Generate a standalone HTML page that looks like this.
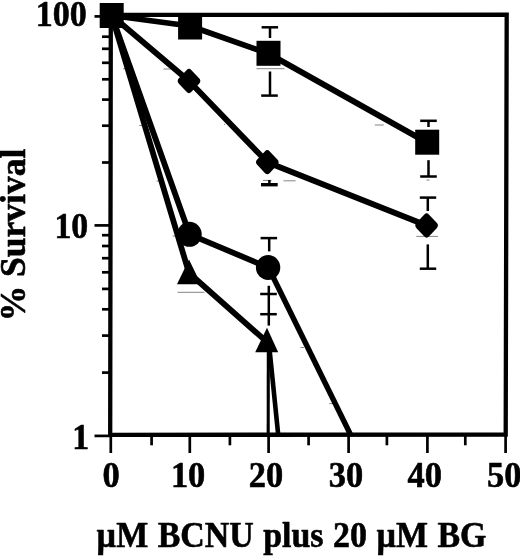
<!DOCTYPE html>
<html lang="en"><head><meta charset="utf-8"><title>Survival chart</title>
<style>html,body{margin:0;padding:0;background:#fff}body{width:520px;height:557px;overflow:hidden}</style></head>
<body>
<svg width="520" height="557" viewBox="0 0 520 557" style="display:block">
<rect width="520" height="557" fill="#fff"/>
<g stroke="#666" stroke-width="0.8">
<line x1="262.9" y1="180.4" x2="271.6" y2="180.4"/>
<line x1="123" y1="68.8" x2="126.4" y2="68.8"/>
<line x1="139.3" y1="125.5" x2="142" y2="125.5"/>
<line x1="156.6" y1="181" x2="160" y2="181"/>
<line x1="426.5" y1="180.1" x2="429.5" y2="180.1"/>
<line x1="163.5" y1="69" x2="171.5" y2="69"/>
<line x1="224" y1="124.4" x2="225" y2="124.4"/>
<line x1="374.8" y1="125" x2="383.8" y2="125"/>
<line x1="283.5" y1="180.8" x2="295.6" y2="180.8"/>
<line x1="256.5" y1="68.7" x2="284.4" y2="68.7"/>
<line x1="416.3" y1="236.4" x2="437.9" y2="236.4"/>
<line x1="177.5" y1="292.3" x2="204.4" y2="292.3"/>
<line x1="172.7" y1="236" x2="177" y2="236"/>
<line x1="300.5" y1="347.5" x2="304" y2="347.5"/>
<line x1="329.3" y1="403.6" x2="333" y2="403.6"/>
</g>
<path d="M110.8 14.9 L506.7 14.7 L505.7 434.6 L110.2 434.8 Z" fill="none" stroke="#000" stroke-width="4.3" stroke-linejoin="miter"/>
<g stroke="#000" stroke-width="2.7">
<line x1="94.5" y1="16.4" x2="110.2" y2="16.4"/>
<line x1="94.5" y1="225.4" x2="110.2" y2="225.4"/>
<line x1="94.5" y1="435.9" x2="110.2" y2="435.9"/>
<line x1="102" y1="162.5" x2="110.2" y2="162.5"/>
<line x1="102" y1="125.7" x2="110.2" y2="125.7"/>
<line x1="102" y1="99.6" x2="110.2" y2="99.6"/>
<line x1="102" y1="79.3" x2="110.2" y2="79.3"/>
<line x1="102" y1="62.8" x2="110.2" y2="62.8"/>
<line x1="102" y1="48.8" x2="110.2" y2="48.8"/>
<line x1="102" y1="36.7" x2="110.2" y2="36.7"/>
<line x1="102" y1="26.0" x2="110.2" y2="26.0"/>
<line x1="102" y1="372.6" x2="110.2" y2="372.6"/>
<line x1="102" y1="335.6" x2="110.2" y2="335.6"/>
<line x1="102" y1="309.3" x2="110.2" y2="309.3"/>
<line x1="102" y1="288.9" x2="110.2" y2="288.9"/>
<line x1="102" y1="272.3" x2="110.2" y2="272.3"/>
<line x1="102" y1="258.2" x2="110.2" y2="258.2"/>
<line x1="102" y1="246.0" x2="110.2" y2="246.0"/>
<line x1="102" y1="235.2" x2="110.2" y2="235.2"/>
<line x1="110.8" y1="434.7" x2="110.8" y2="453"/>
<line x1="151.6" y1="434.7" x2="151.6" y2="445.3"/>
<line x1="189.8" y1="434.7" x2="189.8" y2="453"/>
<line x1="229.9" y1="434.7" x2="229.9" y2="445.3"/>
<line x1="268.6" y1="434.7" x2="268.6" y2="453"/>
<line x1="308.6" y1="434.7" x2="308.6" y2="445.3"/>
<line x1="348.6" y1="434.7" x2="348.6" y2="453"/>
<line x1="386.9" y1="434.7" x2="386.9" y2="445.3"/>
<line x1="427.4" y1="434.7" x2="427.4" y2="453"/>
<line x1="465.3" y1="434.7" x2="465.3" y2="445.3"/>
<line x1="505.6" y1="434.7" x2="505.6" y2="453"/>
</g>
<g stroke="#000" stroke-width="2.5">
<line x1="261.6" y1="27.3" x2="278.1" y2="27.3"/>
<line x1="270" y1="27.3" x2="270" y2="38"/>
<line x1="270" y1="71.5" x2="270" y2="95.6"/>
<line x1="261.2" y1="95.6" x2="277.8" y2="95.6"/>
<line x1="420.2" y1="120.8" x2="436.8" y2="120.8"/>
<line x1="428.5" y1="120.8" x2="428.5" y2="127"/>
<line x1="428.5" y1="160.2" x2="428.5" y2="176.5"/>
<line x1="420.2" y1="176.5" x2="436.8" y2="176.5"/>
<line x1="269.4" y1="180" x2="269.4" y2="184.6"/>
<line x1="261" y1="184.7" x2="277.7" y2="184.7" stroke-width="3.4"/>
<line x1="419.8" y1="197.6" x2="436.2" y2="197.6"/>
<line x1="427.8" y1="197.6" x2="427.8" y2="211"/>
<line x1="427.8" y1="244.4" x2="427.8" y2="268.7"/>
<line x1="419.8" y1="268.7" x2="436.2" y2="268.7"/>
<line x1="260.6" y1="238.1" x2="277.1" y2="238.1"/>
<line x1="269.2" y1="238.1" x2="269.2" y2="251.4"/>
<line x1="268.8" y1="285.8" x2="268.8" y2="325.6"/>
<line x1="260.2" y1="294.0" x2="276.8" y2="294.0"/>
<line x1="260.2" y1="314.2" x2="276.8" y2="314.2"/>
<line x1="268.3" y1="350" x2="268.2" y2="434.7" stroke-width="3.1"/>
</g>
<g fill="none" stroke="#000" stroke-width="5.8" stroke-linejoin="round">
<polyline points="111.7,15.5 190.1,26.0 268.5,53.6 427.2,142.6"/>
<polyline points="111.7,15.5 189,81 267.3,162.2 426.6,225.5"/>
<polyline points="111.7,15.5 189.5,234.3 268.1,267.5"/>
<polyline points="111.7,15.5 189,273 267,342"/>
<line x1="268.4" y1="267.5" x2="350.6" y2="434.7" stroke-width="5.4"/>
<line x1="269.6" y1="350" x2="278.2" y2="434.7" stroke-width="4.6"/>
</g>
<g fill="#000">
<rect x="99.7" y="3.0" width="24" height="25"/>
<rect x="178.1" y="14.5" width="24" height="25"/>
<rect x="256.5" y="40.8" width="24" height="25"/>
<rect x="415.2" y="129.7" width="24" height="25"/>
<rect x="-8.9" y="-8.9" width="17.8" height="17.8" rx="3.5" transform="translate(189,81) scale(1.0,1.07) rotate(45)"/>
<rect x="-8.9" y="-8.9" width="17.8" height="17.8" rx="3.5" transform="translate(267.3,162.2) scale(1.0,1.07) rotate(45)"/>
<rect x="-8.9" y="-8.9" width="17.8" height="17.8" rx="3.5" transform="translate(426.6,225.5) scale(1.0,1.07) rotate(45)"/>
<ellipse cx="189.5" cy="234.3" rx="12.2" ry="12.5"/>
<ellipse cx="268.1" cy="267.5" rx="12.2" ry="12.5"/>
<path d="M189 259.4 L201 284.3 L177 284.3 Z"/>
<path d="M267 327.8 L278.2 352.3 L255.2 352.3 Z"/>
</g>
<text font-family="'Liberation Serif',serif" font-weight="bold" font-size="36.3" text-anchor="end" transform="translate(86.6,26.0) scale(0.935,1)" stroke="#000" stroke-width="0.6" stroke-linejoin="round">100</text>
<text font-family="'Liberation Serif',serif" font-weight="bold" font-size="36.3" text-anchor="end" transform="translate(88.2,237.7) scale(0.93,1)" stroke="#000" stroke-width="0.6" stroke-linejoin="round">10</text>
<text font-family="'Liberation Serif',serif" font-weight="bold" font-size="36.3" text-anchor="end" transform="translate(89.2,448.7) scale(0.93,1)" stroke="#000" stroke-width="0.6" stroke-linejoin="round">1</text>
<text font-family="'Liberation Serif',serif" font-weight="bold" font-size="36.6" text-anchor="middle" transform="translate(111.2,487.0) scale(0.94,1)" stroke="#000" stroke-width="0.6" stroke-linejoin="round">0</text>
<text font-family="'Liberation Serif',serif" font-weight="bold" font-size="36.6" text-anchor="middle" transform="translate(188.1,487.0) scale(0.94,1)" stroke="#000" stroke-width="0.6" stroke-linejoin="round">10</text>
<text font-family="'Liberation Serif',serif" font-weight="bold" font-size="36.6" text-anchor="middle" transform="translate(266,487.0) scale(0.94,1)" stroke="#000" stroke-width="0.6" stroke-linejoin="round">20</text>
<text font-family="'Liberation Serif',serif" font-weight="bold" font-size="36.6" text-anchor="middle" transform="translate(346,487.0) scale(0.94,1)" stroke="#000" stroke-width="0.6" stroke-linejoin="round">30</text>
<text font-family="'Liberation Serif',serif" font-weight="bold" font-size="36.6" text-anchor="middle" transform="translate(424.8,487.0) scale(0.94,1)" stroke="#000" stroke-width="0.6" stroke-linejoin="round">40</text>
<text font-family="'Liberation Serif',serif" font-weight="bold" font-size="36.6" text-anchor="middle" transform="translate(504.3,487.0) scale(0.94,1)" stroke="#000" stroke-width="0.6" stroke-linejoin="round">50</text>
<text font-family="'Liberation Serif',serif" font-weight="bold" font-size="35.5" word-spacing="1.1" text-anchor="start" transform="translate(96.6,547) scale(0.955,1)" stroke="#000" stroke-width="0.6" stroke-linejoin="round">µM BCNU plus 20 µM BG</text>
<text font-family="'Liberation Serif',serif" font-weight="bold" font-size="35.5" text-anchor="middle" transform="translate(25,235) rotate(-90)" stroke="#000" stroke-width="0.6" stroke-linejoin="round">% Survival</text>
</svg>
</body></html>
